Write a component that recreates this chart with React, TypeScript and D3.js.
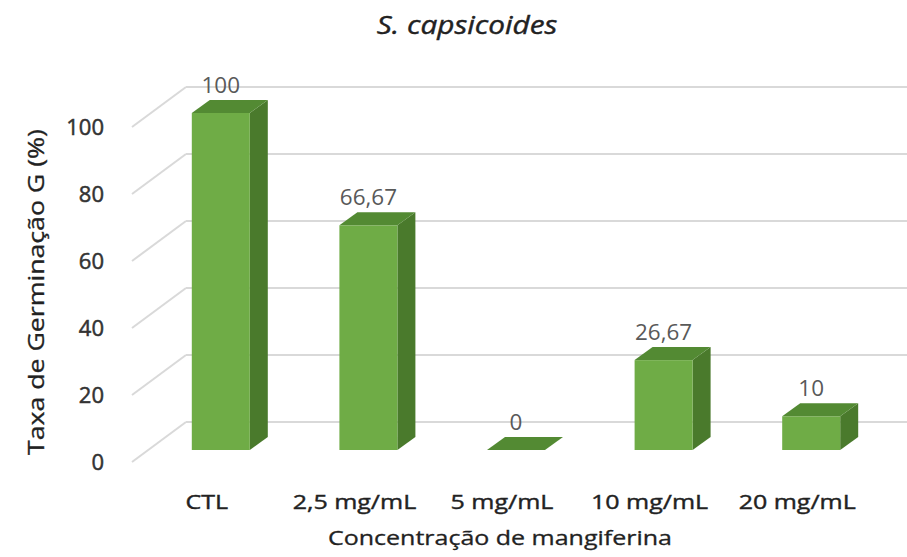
import React from 'react';
import * as d3 from 'd3';

const categories = ['CTL', '2,5 mg/mL', '5 mg/mL', '10 mg/mL', '20 mg/mL'];
const values = [100, 66.67, 0, 26.67, 10];
const valueLabels = ['100', '66,67', '0', '26,67', '10'];
const yTicks = [0, 20, 40, 60, 80, 100];
const chartTitle = 'S. capsicoides';
const xTitle = 'Concentração de mangiferina';
const yTitle = 'Taxa de Germinação G (%)';

const W = 907;
const H = 557;
const FONT = '"Open Sans", "DejaVu Sans", sans-serif';

export default function App() {
  const x = d3.scaleBand<string>().domain(categories).range([147, 885]).padding(0);
  const yBar = d3.scaleLinear().domain([0, 100]).range([450, 113]);
  const yBack = d3.scaleLinear().domain([0, 100]).range([422, 87]);
  const yFront = d3.scaleLinear().domain([0, 100]).range([462, 127]);
  const wallX = 186;
  const frontX = 132;
  const dx = 18;
  const dy = -13;
  const barW = 58;

  const front = '#6FAC46';
  const top = '#538A33';
  const side = '#4A7A2C';

  return (
    <svg width={W} height={H} style={{ position: 'absolute', left: 0, top: 0, background: '#fff' }}>
      <rect x={0} y={0} width={W} height={H} fill="#fff" />
      {/* gridlines */}
      {yTicks.map((t) => (
        <g key={t}>
          <line x1={frontX} y1={yFront(t)} x2={wallX} y2={yBack(t)} stroke="#D9D9D9" strokeWidth={2} />
          <line x1={wallX} y1={yBack(t)} x2={W} y2={yBack(t)} stroke="#D9D9D9" strokeWidth={2} />
        </g>
      ))}
      {/* tick labels */}
      {yTicks.map((t) => (
        <text key={'t' + t} x={104} y={yFront(t) + 8} textAnchor="end" fontFamily={FONT} fontSize={22}
          fill="#333" stroke="#333" strokeWidth={0.5}>
          {t}
        </text>
      ))}
      {/* bars */}
      {categories.map((c, i) => {
        const cx = (x(c) as number) + x.bandwidth() / 2;
        const x0 = cx - barW / 2;
        const x1 = cx + barW / 2;
        const yT = yBar(values[i]);
        const yB = yBar(0);
        const h = yB - yT;
        const topPts = [[x0, yT], [x0 + dx, yT + dy], [x1 + dx, yT + dy], [x1, yT]];
        const sidePts = [[x1, yT], [x1 + dx, yT + dy], [x1 + dx, yB + dy], [x1, yB]];
        return (
          <g key={c}>
            {h > 0 && <polygon points={sidePts.map((p) => p.join(',')).join(' ')} fill={side} />}
            {h > 0 && <rect x={x0} y={yT} width={barW} height={h} fill={front} />}
            <polygon points={topPts.map((p) => p.join(',')).join(' ')} fill={top} />
            <text x={cx} y={yT + dy - 7} textAnchor="middle" fontFamily={FONT} fontSize={21} fill="#595959"
              transform={`translate(${cx},0) scale(1.07,1) translate(${-cx},0)`}>
              {valueLabels[i]}
            </text>
            <text transform={`translate(${cx - 14},509) scale(1.25,1)`} textAnchor="middle" fontFamily={FONT}
              fontSize={20} fill="#222" stroke="#222" strokeWidth={0.4}>
              {c}
            </text>
          </g>
        );
      })}
      {/* titles */}
      <text transform="translate(467,34) scale(1.19,1)" textAnchor="middle" fontFamily={FONT} fontSize={25}
        fontStyle="italic" fill="#222" stroke="#222" strokeWidth={0.4}>
        {chartTitle}
      </text>
      <text transform="translate(500,545) scale(1.25,1)" textAnchor="middle" fontFamily={FONT} fontSize={20}
        fill="#222" stroke="#222" strokeWidth={0.3}>
        {xTitle}
      </text>
      <text transform="translate(44,292) rotate(-90) scale(1.27,1)" textAnchor="middle" fontFamily={FONT}
        fontSize={21} fill="#222" stroke="#222" strokeWidth={0.3}>
        {yTitle}
      </text>
    </svg>
  );
}
